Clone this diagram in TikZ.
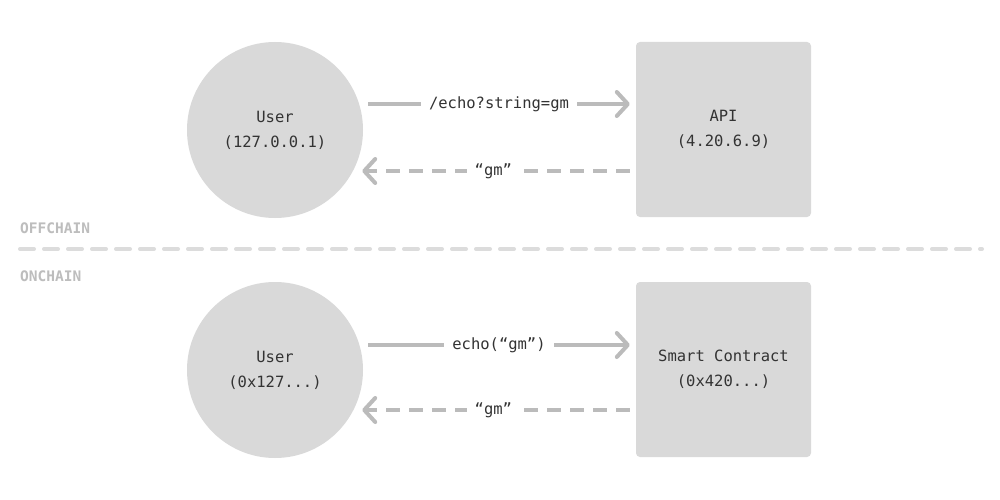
\documentclass[tikz,border=0pt]{standalone}
\usepackage{fontspec}
\setmonofont{DejaVu Sans Mono}
\usetikzlibrary{arrows.meta}
\definecolor{shapefill}{HTML}{D9D9D9}
\definecolor{arrowcol}{HTML}{BBBBBB}
\definecolor{txtcol}{HTML}{333333}
\definecolor{labcol}{HTML}{BDBDBD}
\definecolor{sepcol}{HTML}{DCDCDC}
\tikzset{
  usernode/.style={circle,fill=shapefill,minimum size=176pt,inner sep=0pt,align=center,text=txtcol,font=\ttfamily\fontsize{15.5}{25}\selectfont},
  boxnode/.style={rectangle,rounded corners=4pt,fill=shapefill,minimum size=175pt,inner sep=0pt,align=center,text=txtcol,font=\ttfamily\fontsize{15.5}{25}\selectfont},
  callarrow/.style={draw=arrowcol,line width=4pt,-{Straight Barb[length=11pt,width=24pt,round]}},
  retarrow/.style={callarrow,dash pattern=on 14pt off 9pt},
  arrowlabel/.style={fill=white,inner xsep=8pt,inner ysep=2pt,text=txtcol,font=\ttfamily\fontsize{15.5}{18}\selectfont},
  zonelabel/.style={anchor=west,inner sep=0pt,text=labcol,font=\ttfamily\bfseries\fontsize{14.5}{16}\selectfont},
  separator/.style={draw=sepcol,line width=4pt,dash pattern=on 14pt off 10pt,line cap=round}
}
\begin{document}
\begin{tikzpicture}[x=1pt,y=-1pt]
\useasboundingbox[fill=white] (0,0) rectangle (1000,500);
% offchain
\node[usernode] (u1) at (275,130) {User\\(127.0.0.1)};
\node[boxnode] (api) at (723.5,129.5) {API\\(4.20.6.9)};
\draw[callarrow] ([xshift=5pt,yshift=26pt]u1.east) -- node[arrowlabel]{/echo?string=gm} ([xshift=-6pt,yshift=25.5pt]api.west);
\draw[retarrow] ([xshift=-6pt,yshift=-41.5pt]api.west) -- node[arrowlabel,pos=0.51]{“gm”} ([xshift=-1pt,yshift=-41pt]u1.east);
% separator
\node[zonelabel] (off) at (20,228) {OFFCHAIN};
\coordinate (sepL) at (20,249);
\coordinate (sepR) at (982,249);
\draw[separator] (sepL) -- (sepR);
\node[zonelabel] (on) at (20,276) {ONCHAIN};
% onchain
\node[usernode] (u2) at (275,370) {User\\(0x127...)};
\node[boxnode] (sc) at (723.5,369.5) {Smart Contract\\(0x420...)};
\draw[callarrow] ([xshift=5pt,yshift=25pt]u2.east) -- node[arrowlabel]{echo(“gm”)} ([xshift=-6pt,yshift=24.5pt]sc.west);
\draw[retarrow] ([xshift=-6pt,yshift=-40.5pt]sc.west) -- node[arrowlabel,pos=0.51]{“gm”} ([xshift=-1pt,yshift=-40pt]u2.east);
\end{tikzpicture}
\end{document}
